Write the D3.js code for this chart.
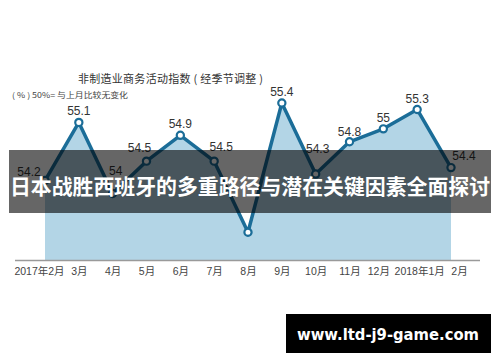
<!DOCTYPE html>
<html>
<head>
<meta charset="utf-8">
<script src="https://cdn.jsdelivr.net/npm/d3@7/dist/d3.min.js"></script>
<style>
  body { margin: 0; background: #fff; }
  svg { display: block; }
</style>
</head>
<body>
<svg></svg>
<script>
var months = ["2017年2月", "3月", "4月", "5月", "6月", "7月", "8月", "9月", "10月", "11月", "12月", "2018年1月", "2月"];
var values = [54.2, 55.1, 54.0, 54.5, 54.9, 54.5, 53.4, 55.4, 54.3, 54.8, 55.0, 55.3, 54.4];
var valueLabels = ["54.2", "55.1", "54", "54.5", "54.9", "54.5", "", "55.4", "54.3", "54.8", "55", "55.3", "54.4"];

var title = "非制造业商务活动指数 ( 经季节调整 )";
var note = "( % ) 50%= 与上月比较无变化";
var banner = "日本战胜西班牙的多重路径与潜在关键因素全面探讨";
var site = "www.ltd-j9-game.com";

var width = 500, height = 362;
var blue = "#1b6d98";
var cjk = "'Noto Sans CJK SC', sans-serif";
var num = "'Liberation Sans', 'Noto Sans CJK SC', sans-serif";

var svg = d3.select("svg").attr("width", width).attr("height", height);

var x = d3.scalePoint().domain(months).range([45, 451]);
var y = d3.scaleLinear().domain([52.97, 55.4]).range([260, 103]);

var data = months.map(function(m, i){ return {m: m, v: values[i], t: valueLabels[i]}; });

// title + note
svg.append("text")
  .attr("x", 78).attr("y", 83)
  .attr("textLength", 185).attr("lengthAdjust", "spacing")
  .style("font-family", cjk).style("font-size", "11px").style("fill", "#333")
  .text(title);

svg.append("text")
  .attr("x", 12).attr("y", 98)
  .attr("textLength", 116).attr("lengthAdjust", "spacingAndGlyphs")
  .style("font-family", cjk).style("font-size", "8px").style("fill", "#444")
  .text(note);

// area + line
svg.append("path")
  .datum(data)
  .attr("d", d3.area().x(d => x(d.m)).y0(y(52.97)).y1(d => y(d.v)))
  .style("fill", "#b3d5e6");

svg.append("path")
  .datum(data)
  .attr("d", d3.line().x(d => x(d.m)).y(d => y(d.v)))
  .style("fill", "none").style("stroke", blue).style("stroke-width", 3.5)
  .style("stroke-linejoin", "round");

svg.selectAll("circle.pt")
  .data(data)
  .enter().append("circle")
  .attr("class", "pt")
  .attr("cx", d => x(d.m)).attr("cy", d => y(d.v)).attr("r", 3.6)
  .style("fill", "#fff").style("stroke", blue).style("stroke-width", 2.2);

// value labels, nudged where the line gets in the way
var nudge = [[-16, -5], [0, -7], [3, -18], [-7, -9], [0, -7], [7, -10], [0, -7],
             [0, -7], [2, -21], [0, -6], [0, -7], [0, -6], [13, -8]];

svg.selectAll("text.val")
  .data(data)
  .enter().append("text")
  .attr("class", "val")
  .attr("x", (d, i) => x(d.m) + nudge[i][0])
  .attr("y", (d, i) => y(d.v) + nudge[i][1])
  .attr("text-anchor", "middle")
  .style("font-family", num).style("font-size", "12px").style("fill", "#333")
  .text(d => d.t);

// x axis
var tickShift = {0: -6, 10: -5, 11: 2, 12: 8};
var xAxis = d3.axisBottom(x).tickSize(0).tickPadding(0);
var gx = svg.append("g").attr("transform", "translate(0,260)").call(xAxis);
gx.select(".domain").remove();
gx.selectAll("text")
  .attr("y", 15).attr("dy", 0)
  .attr("dx", (d, i) => tickShift[i] || 0)
  .style("font-family", num).style("font-size", "10.5px").style("fill", "#444");
svg.append("line")
  .attr("x1", 15).attr("x2", 480).attr("y1", 260.5).attr("y2", 260.5)
  .style("stroke", "#9a9a9a").style("stroke-width", 1.5);

// banner overlay
svg.append("rect")
  .attr("x", 9).attr("y", 150).attr("width", 482).attr("height", 63)
  .style("fill", "rgba(0,0,0,0.6)");
svg.append("text")
  .attr("x", 250).attr("y", 194)
  .attr("text-anchor", "middle")
  .attr("textLength", 480).attr("lengthAdjust", "spacingAndGlyphs")
  .style("font-family", cjk).style("font-weight", "bold").style("font-size", "21px").style("fill", "#fff")
  .text(banner);

// footer tag
svg.append("rect")
  .attr("x", 286).attr("y", 314).attr("width", 205).attr("height", 39)
  .style("fill", "#000");
svg.append("text")
  .attr("x", 388).attr("y", 340)
  .attr("text-anchor", "middle")
  .attr("textLength", 182).attr("lengthAdjust", "spacingAndGlyphs")
  .style("font-family", "'DejaVu Sans', sans-serif").style("font-weight", "bold").style("font-size", "15px").style("fill", "#fff")
  .text(site);
</script>
</body>
</html>
